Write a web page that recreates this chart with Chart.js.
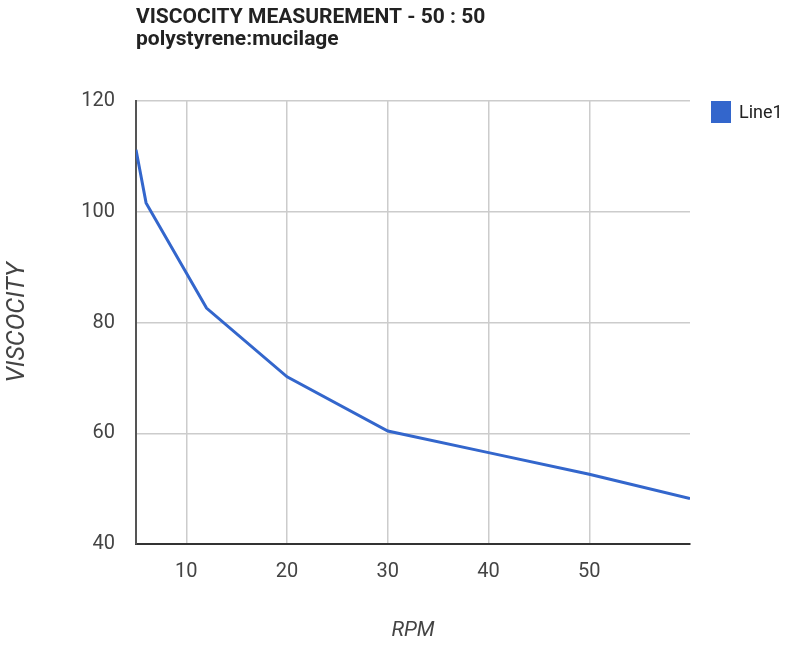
<!DOCTYPE html>
<html>
<head>
<meta charset="utf-8">
<script src="https://cdn.jsdelivr.net/npm/chart.js@4.4.1/dist/chart.umd.min.js"></script>
<style>
  html, body { margin: 0; padding: 0; background: #fff; }
  #wrap { width: 791px; height: 646px; }
</style>
</head>
<body>
<div id="wrap"><canvas id="chart"></canvas></div>
<script>
const rpm = [5, 6, 12, 20, 30, 40, 50, 60];
const viscosity = [111.2, 101.6, 82.6, 70.2, 60.4, 56.5, 52.6, 48.2];
const xTicks = [10, 20, 30, 40, 50];
const yTicks = [40, 60, 80, 100, 120];
const seriesName = 'Line1';
const titleText = 'VISCOCITY MEASUREMENT - 50 : 50';
const subtitleText = 'polystyrene:mucilage';

const FONT = '"Liberation Sans Narrow", "Roboto", sans-serif';
const LINE_COLOR = '#3366cc';

// title, subtitle and legend drawn by hand so they line up like the original
const headerPlugin = {
  id: 'header',
  afterDraw(chart) {
    const ctx = chart.ctx;
    const area = chart.chartArea;
    ctx.save();
    ctx.fillStyle = '#222';
    ctx.textAlign = 'left';
    ctx.textBaseline = 'alphabetic';
    ctx.font = 'bold 21px ' + FONT;
    ctx.fillText(titleText, area.left, 23);
    ctx.fillText(subtitleText, area.left, 45);

    const ds = chart.data.datasets[0];
    ctx.fillStyle = ds.borderColor;
    ctx.fillRect(711, 101, 20, 22);
    ctx.fillStyle = '#222';
    ctx.font = '18px ' + FONT;
    ctx.textBaseline = 'middle';
    ctx.fillText(ds.label, 739, 113);
    ctx.restore();
  }
};

const ctx = document.getElementById('chart').getContext('2d');
const myChart = new Chart(ctx, {
  type: 'line',
  data: {
    datasets: [{
      label: seriesName,
      data: rpm.map((r, i) => ({ x: r, y: viscosity[i] })),
      borderColor: LINE_COLOR,
      backgroundColor: LINE_COLOR,
      borderWidth: 3,
      pointRadius: 0,
      tension: 0,
      fill: false
    }]
  },
  options: {
    responsive: true,
    maintainAspectRatio: false,
    animation: false,
    layout: {
      padding: { top: 101, right: 101, bottom: 0, left: 0 }
    },
    plugins: {
      legend: { display: false },
      title: { display: false },
      tooltip: { enabled: false }
    },
    scales: {
      x: {
        type: 'linear',
        min: 5,
        max: 60,
        afterBuildTicks: (s) => { s.ticks = xTicks.map(v => ({ value: v })); },
        afterFit: (s) => { s.height = 102; },
        grid: { color: '#cccccc', lineWidth: 1.5, drawTicks: false },
        border: { color: '#333', width: 2 },
        ticks: {
          padding: 16,
          color: '#444',
          font: { family: FONT, size: 20 }
        },
        title: {
          display: true,
          text: 'RPM',
          color: '#444',
          padding: { top: 0, bottom: 3 },
          font: { family: FONT, size: 21, style: 'italic' }
        }
      },
      y: {
        min: 40,
        max: 120,
        afterBuildTicks: (s) => { s.ticks = yTicks.map(v => ({ value: v })); },
        afterFit: (s) => { s.width = 136; },
        grid: { color: '#cccccc', lineWidth: 1.5, drawTicks: false },
        border: { color: '#555', width: 2 },
        ticks: {
          padding: 21,
          color: '#444',
          font: { family: FONT, size: 20 }
        },
        title: {
          display: true,
          text: 'VISCOCITY',
          color: '#444',
          padding: { top: 3, bottom: 0 },
          font: { family: FONT, size: 25, style: 'italic' }
        }
      }
    }
  },
  plugins: [headerPlugin]
});
</script>
</body>
</html>
